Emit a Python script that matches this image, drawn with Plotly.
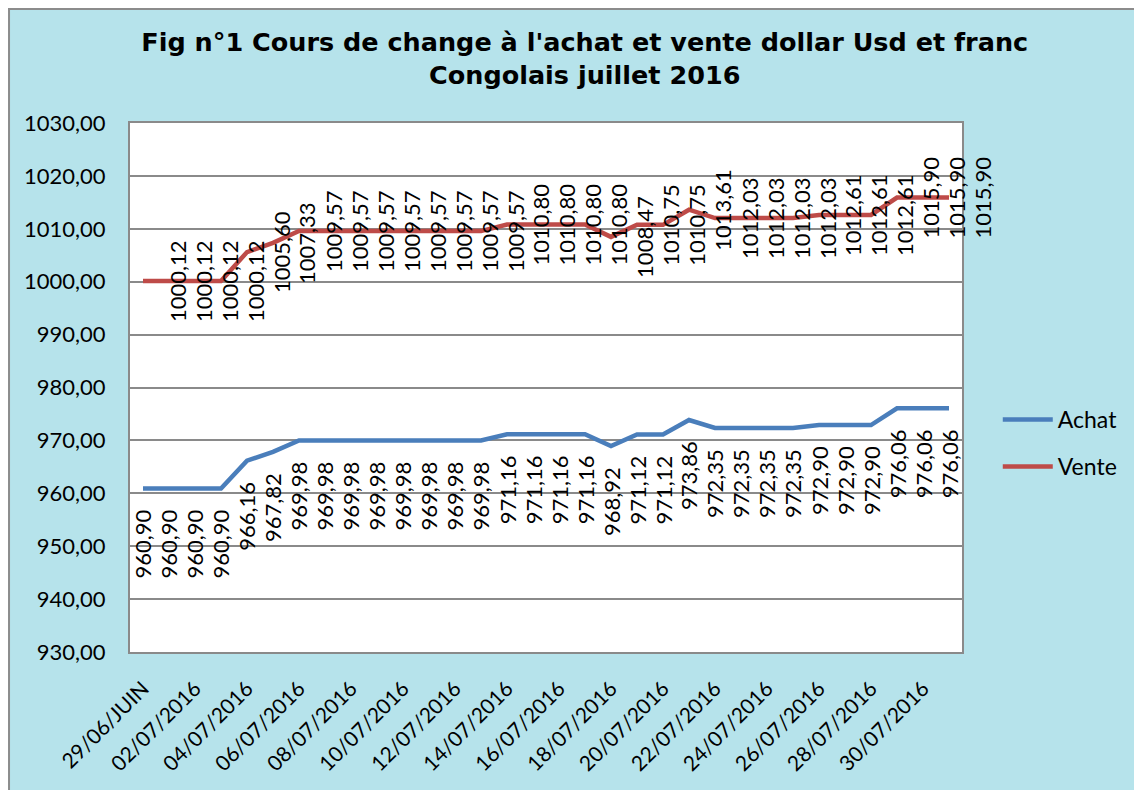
import plotly.graph_objects as go

dates = ["29/06/JUIN"] + [f"{d:02d}/07/2016" for d in range(1, 32)]
achat = [960.90, 960.90, 960.90, 960.90, 966.16, 967.82,
         969.98, 969.98, 969.98, 969.98, 969.98, 969.98, 969.98, 969.98,
         971.16, 971.16, 971.16, 971.16, 968.92, 971.12, 971.12, 973.86,
         972.35, 972.35, 972.35, 972.35, 972.90, 972.90, 972.90,
         976.06, 976.06, 976.06]
vente = [1000.12, 1000.12, 1000.12, 1000.12, 1005.60, 1007.33,
         1009.57, 1009.57, 1009.57, 1009.57, 1009.57, 1009.57, 1009.57, 1009.57,
         1010.80, 1010.80, 1010.80, 1010.80, 1008.47, 1010.75, 1010.75, 1013.61,
         1012.03, 1012.03, 1012.03, 1012.03, 1012.61, 1012.61, 1012.61,
         1015.90, 1015.90, 1015.90]
title = "Fig n°1 Cours de change à l'achat et vente dollar Usd et franc<br>Congolais juillet 2016"

FONT = "Lato"
BLUE = "#4a7ebb"
RED = "#be4b48"
GRID = "#8a8a8a"

def fmt(v):
    return f"{v:.2f}".replace(".", ",")

fig = go.Figure()
fig.add_trace(go.Scatter(x=dates, y=achat, mode="lines", name="Achat",
                         line=dict(color=BLUE, width=4.5), legendgroup="a"))
fig.add_trace(go.Scatter(x=dates, y=vente, mode="lines", name="Vente",
                         line=dict(color=RED, width=4.5), legendgroup="v"))

annotations = []
for d, v in zip(dates, achat):
    annotations.append(dict(x=d, y=v, xref="x", yref="y", text=fmt(v), showarrow=False,
                            textangle=-90, xanchor="center", yanchor="middle",
                            yshift=-56, font=dict(family=FONT, size=22, color="black")))
for d, v in zip(dates, vente):
    annotations.append(dict(x=d, y=v, xref="x", yref="y", text=fmt(v), showarrow=False,
                            textangle=-90, xanchor="center", yanchor="middle",
                            xshift=34, font=dict(family=FONT, size=22, color="black")))

fig.update_layout(
    width=1142, height=790,
    margin=dict(l=122, r=188, t=115, b=146),
    paper_bgcolor="#b6e3eb",
    plot_bgcolor="white",
    separators=", ",
    title=dict(text=title, x=0.505, xanchor="center", xref="container",
               y=1 - 43 / 790, yanchor="top", yref="container",
               font=dict(family="DejaVu Sans", size=25.5, color="black", weight="bold")),
    showlegend=True,
    legend=dict(x=1.043, xanchor="left", y=0.395, yanchor="middle",
                bgcolor="rgba(0,0,0,0)", tracegroupgap=14, itemwidth=50,
                font=dict(family=FONT, size=23, color="black")),
    annotations=annotations,
    shapes=[dict(type="rect", xref="paper", yref="paper",
                 x0=-0.1454, x1=1.5, y0=-0.5, y1=1.2155,
                 line=dict(color="#8c8c8c", width=2), layer="below")],
)
fig.update_xaxes(type="category", range=[-0.5, 31.5],
                 tickvals=dates[::2], ticktext=dates[::2], tickangle=-45,
                 showgrid=False, showline=True, mirror=True,
                 linecolor=GRID, linewidth=2,
                 ticks="outside", ticklen=14, tickcolor="rgba(0,0,0,0)",
                 tickfont=dict(family=FONT, size=21, color="black"))
fig.update_yaxes(range=[930, 1030], dtick=10, tickformat=".2f",
                 showgrid=True, gridcolor=GRID, gridwidth=1.5,
                 showline=True, mirror=True, linecolor=GRID, linewidth=2,
                 ticks="outside", ticklen=18, tickcolor="rgba(0,0,0,0)",
                 zeroline=False,
                 tickfont=dict(family=FONT, size=22, color="black"))

fig.write_html("out.html")
